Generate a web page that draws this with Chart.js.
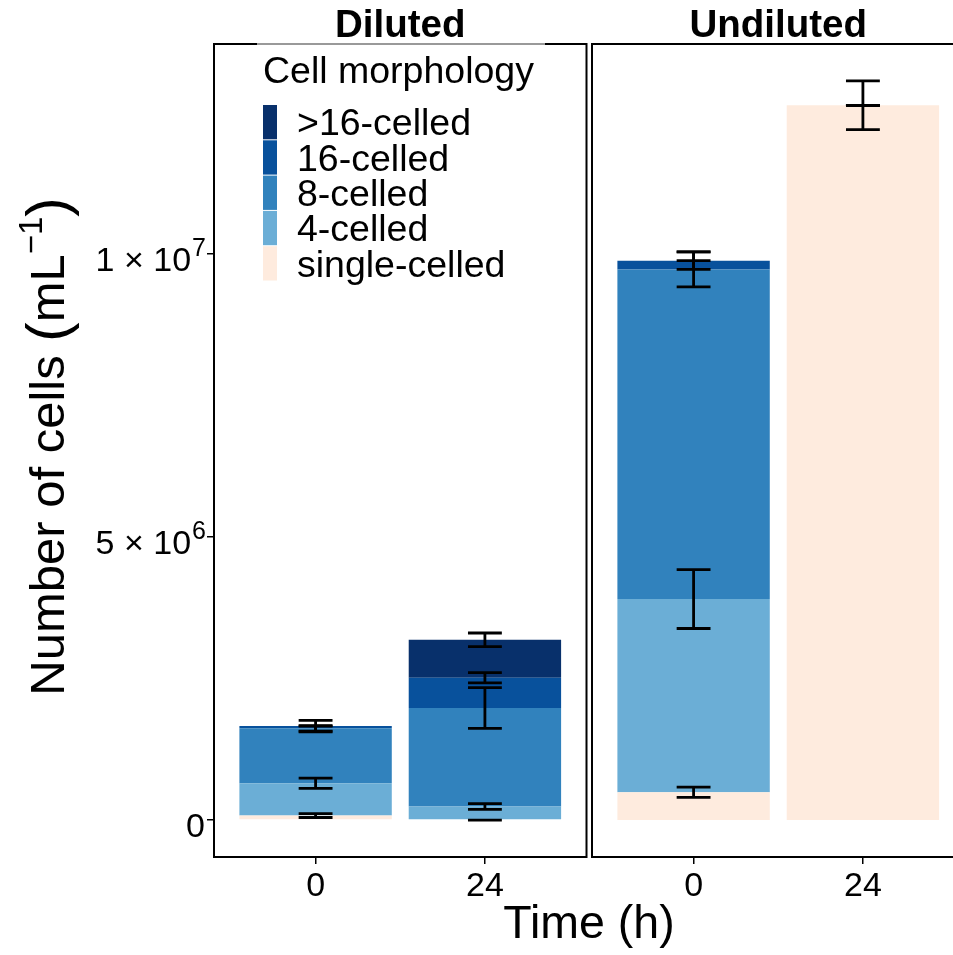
<!DOCTYPE html>
<html>
<head>
<meta charset="utf-8">
<script src="https://cdn.jsdelivr.net/npm/chart.js@4.4.1/dist/chart.umd.min.js"></script>
<style>
    html, body { margin: 0; padding: 0; background: #fff; overflow: hidden; width: 953px; height: 955px; }
    #wrap { position: relative; width: 953px; height: 955px; }
    canvas { position: absolute; top: 0; }
    #c-dil { left: 0; }
    #c-und { left: 588px; }
</style>
</head>
<body>
<div id="wrap">
    <canvas id="c-dil" width="953" height="955"></canvas>
    <canvas id="c-und" width="380" height="955"></canvas>
</div>
<script>
( function () {
    'use strict';

    /* ── Data (cells per mL), each array is [0 h, 24 h] ── */
    var times       = [ '0', '24' ];
    var morphs      = [ 'single-celled', '4-celled', '8-celled', '16-celled', '>16-celled' ];
    var morphColors = [ '#FEEBDE', '#6BAED6', '#3182BD', '#08519C', '#08306B' ];

    // Diluted
    var dilSingle    = [ 0.08e6, 0 ];
    var dil4         = [ 0.57e6, 0.24e6 ];
    var dil8         = [ 0.97e6, 1.74e6 ];
    var dil16        = [ 0.04e6, 0.535e6 ];
    var dilOver16    = [ 0, 0.67e6 ];
    var dilSingleErr = [ 0.035e6, 0 ];
    var dil4Err      = [ 0.09e6, 0.05e6 ];
    var dil8Err      = [ 0.05e6, 0.36e6 ];
    var dil16Err     = [ 0.1e6, 0.09e6 ];
    var dilOver16Err = [ 0, 0.12e6 ];

    // Undiluted
    var undSingle    = [ 0.49e6, 12.63e6 ];
    var und4         = [ 3.415e6, 0 ];
    var und8         = [ 5.825e6, 0 ];
    var und16        = [ 0.155e6, 0 ];
    var undOver16    = [ 0, 0 ];
    var undSingleErr = [ 0.09e6, 0.43e6 ];
    var und4Err      = [ 0.52e6, 0 ];
    var und8Err      = [ 0.31e6, 0 ];
    var und16Err     = [ 0.155e6, 0 ];
    var undOver16Err = [ 0, 0 ];

    var yTicks    = [ 0, 5e6, 1e7 ];
    var yTickText = [ [ '0', '' ], [ '5 \u00d7 10', '6' ], [ '1 \u00d7 10', '7' ] ];

    var FONT = '"Liberation Sans", Arial, Helvetica, sans-serif';

    /* ── Y range: data extent + 5% each side (like ggplot) ── */
    function stackExtent( series, errors ) {
        var hi = 0;
        series[ 0 ].forEach( function ( _, j ) {
            var cum = 0;
            series.forEach( function ( s, i ) {
                cum += s[ j ];
                hi = Math.max( hi, cum + errors[ i ][ j ] );
            } );
        } );
        return hi;
    }

    var dilSeries = [ dilSingle, dil4, dil8, dil16, dilOver16 ];
    var dilErrors = [ dilSingleErr, dil4Err, dil8Err, dil16Err, dilOver16Err ];
    var undSeries = [ undSingle, und4, und8, und16, undOver16 ];
    var undErrors = [ undSingleErr, und4Err, und8Err, und16Err, undOver16Err ];

    var dataMax = Math.max( stackExtent( dilSeries, dilErrors ), stackExtent( undSeries, undErrors ) );
    var pad  = 0.05 * dataMax;
    var yMin = -pad;
    var yMax = dataMax + pad;

    /* ── Text helpers ── */
    function font( size, bold ) {
        return ( bold ? 'bold ' : '' ) + size + 'px ' + FONT;
    }

    // base text + raised superscript, right-aligned at xRight
    function drawSupRight( ctx, base, sup, xRight, yMid, size, supSize ) {
        ctx.font = font( supSize );
        var wSup = sup ? ctx.measureText( sup ).width : 0;
        ctx.font = font( size );
        var wBase = ctx.measureText( base ).width;
        var x = xRight - wSup - wBase;
        ctx.textAlign = 'left';
        ctx.textBaseline = 'alphabetic';
        var baseY = yMid + size * 0.36;
        ctx.fillText( base, x, baseY );
        if ( sup ) {
            ctx.font = font( supSize );
            ctx.fillText( sup, x + wBase + 1, baseY - size * 0.45 );
        }
    }

    /* ── Per-panel decorations: error bars, border, strip, (legend/axes) ── */
    function makeDecor( strip, series, errors, isFirst ) {
        return {
            id: 'panelDecor',
            afterDatasetsDraw: function ( chart ) {
                var ctx  = chart.ctx;
                var area = chart.chartArea;
                var xs   = chart.scales.x;
                var ys   = chart.scales.y;

                ctx.save();

                // error bars at each stacked segment top
                ctx.strokeStyle = '#000';
                ctx.lineWidth   = 2.8;
                series[ 0 ].forEach( function ( _, j ) {
                    var cum = 0;
                    var xc  = xs.getPixelForValue( j + 1 );
                    var x0  = xs.getPixelForValue( j + 1 - 0.1 );
                    var x1  = xs.getPixelForValue( j + 1 + 0.1 );
                    series.forEach( function ( s, i ) {
                        cum += s[ j ];
                        var e    = errors[ i ][ j ];
                        var yTop = ys.getPixelForValue( cum + e );
                        var yBot = ys.getPixelForValue( cum - e );
                        ctx.beginPath();
                        ctx.moveTo( x0, yTop ); ctx.lineTo( x1, yTop );
                        ctx.moveTo( x0, yBot ); ctx.lineTo( x1, yBot );
                        ctx.moveTo( xc, yTop ); ctx.lineTo( xc, yBot );
                        ctx.stroke();
                    } );
                } );

                // panel border
                ctx.lineWidth = 2;
                ctx.strokeRect( area.left, area.top, area.right - area.left, area.bottom - area.top );

                // strip label
                ctx.fillStyle    = '#000';
                ctx.font         = font( 38.5, true );
                ctx.textAlign    = 'center';
                ctx.textBaseline = 'alphabetic';
                ctx.fillText( strip, ( area.left + area.right ) / 2, 37 );

                if ( isFirst ) {
                    // y tick labels
                    yTicks.forEach( function ( v, k ) {
                        drawSupRight( ctx, yTickText[ k ][ 0 ], yTickText[ k ][ 1 ],
                            205, ys.getPixelForValue( v ) + 5, 34, 25 );
                    } );

                    // y axis title
                    ctx.save();
                    ctx.translate( 64, ( area.top + area.bottom ) / 2 - 4 );
                    ctx.rotate( -Math.PI / 2 );
                    var parts = [
                        { t: 'Number of cells ', s: 49, dy: 0 },
                        { t: '(', s: 58, dy: 3 },
                        { t: 'mL', s: 49, dy: 0 },
                        { t: '\u22121', s: 33, dy: -22 },
                        { t: ')', s: 58, dy: 3 }
                    ];
                    var total = 0;
                    parts.forEach( function ( p ) { ctx.font = font( p.s ); p.w = ctx.measureText( p.t ).width; total += p.w; } );
                    var px = -total / 2;
                    ctx.textAlign = 'left';
                    parts.forEach( function ( p ) {
                        ctx.font = font( p.s );
                        ctx.fillText( p.t, px, p.dy );
                        px += p.w;
                    } );
                    ctx.restore();

                    // x axis title, centred across both panels
                    ctx.font      = font( 46.5 );
                    ctx.textAlign = 'center';
                    ctx.fillText( 'Time (h)', 589, 938 );

                    // legend
                    ctx.fillStyle = 'rgba(255,255,255,0.6)';
                    ctx.fillRect( 257, 42, 288, 246 );
                    ctx.fillStyle = '#000';
                    ctx.font      = font( 37.5 );
                    ctx.textAlign = 'left';
                    ctx.fillText( 'Cell morphology', 263, 83 );
                    var rowH = 35.3;
                    for ( var k = 0; k < morphs.length; k++ ) {
                        var idx = morphs.length - 1 - k;
                        var top = 104.5 + k * rowH;
                        ctx.fillStyle = morphColors[ idx ];
                        ctx.fillRect( 263, top + 0.5, 14, rowH - 1 );
                        ctx.fillStyle    = '#000';
                        ctx.textBaseline = 'middle';
                        ctx.fillText( morphs[ idx ], 297, top + rowH / 2 + 3 );
                        ctx.textBaseline = 'alphabetic';
                    }
                }

                ctx.restore();
            }
        };
    }

    /* ── Chart builder ── */
    function buildPanel( canvasId, strip, series, errors, isFirst, padding ) {
        var datasets = morphs.map( function ( m, i ) {
            return {
                label: m,
                data: series[ i ].map( function ( v, j ) { return { x: j + 1, y: v }; } ),
                backgroundColor: morphColors[ i ],
                borderWidth: 0,
                barPercentage: 0.9,
                categoryPercentage: 1
            };
        } );

        return new Chart( document.getElementById( canvasId ), {
            type: 'bar',
            data: { datasets: datasets },
            options: {
                responsive: false,
                animation: false,
                layout: { padding: padding },
                plugins: {
                    legend:  { display: false },
                    tooltip: { enabled: false }
                },
                scales: {
                    x: {
                        type: 'linear',
                        stacked: true,
                        offset: false,
                        min: 0.4,
                        max: 2.6,
                        afterBuildTicks: function ( s ) { s.ticks = times.map( function ( _, j ) { return { value: j + 1 }; } ); },
                        afterFit: function ( s ) { s.height = 98; },
                        grid:   { offset: false, drawOnChartArea: false, drawTicks: true, tickLength: 7, color: '#000', lineWidth: 1.5 },
                        border: { display: false },
                        ticks:  {
                            color: '#000',
                            font: { size: 34, family: FONT },
                            padding: 2,
                            maxRotation: 0,
                            autoSkip: false,
                            callback: function ( v ) { return times[ v - 1 ]; }
                        }
                    },
                    y: {
                        stacked: true,
                        min: yMin,
                        max: yMax,
                        display: isFirst,
                        afterBuildTicks: function ( s ) { s.ticks = yTicks.map( function ( v ) { return { value: v }; } ); },
                        afterFit: function ( s ) { s.width = isFirst ? 214 : 0; },
                        grid:   { drawOnChartArea: false, drawTicks: true, tickLength: 7, color: '#000', lineWidth: 1.5 },
                        border: { display: false },
                        ticks:  { display: false }
                    }
                }
            },
            plugins: [ makeDecor( strip, series, errors, isFirst ) ]
        } );
    }

    buildPanel( 'c-dil', 'Diluted', dilSeries, dilErrors, true,
        { left: 0, right: 366.5, top: 44, bottom: 0 } );
    buildPanel( 'c-und', 'Undiluted', undSeries, undErrors, false,
        { left: 4, right: 3.5, top: 44, bottom: 0 } );
}() );
</script>
</body>
</html>
